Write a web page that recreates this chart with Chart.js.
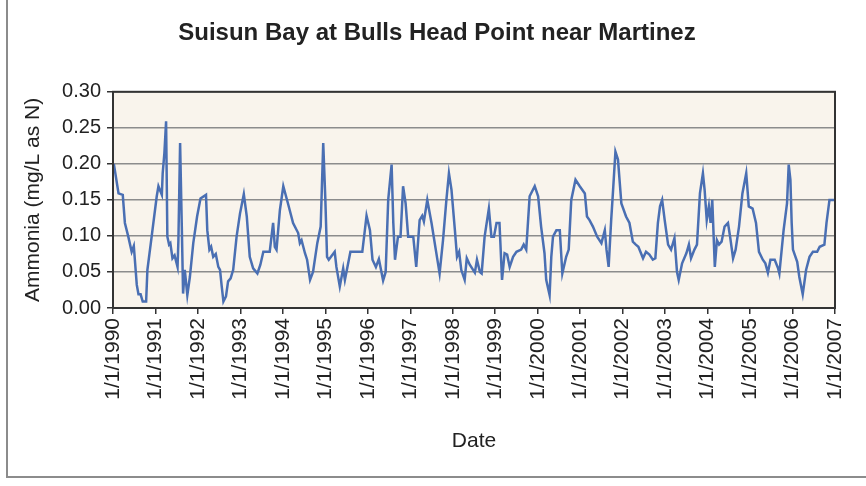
<!DOCTYPE html>
<html>
<head>
<meta charset="utf-8">
<script src="https://cdn.jsdelivr.net/npm/chart.js@4/dist/chart.umd.min.js"></script>
<style>
  html, body { margin: 0; padding: 0; background: #fff; }
  #wrap { width: 866px; height: 486px; position: relative; }
</style>
</head>
<body>
<div id="wrap"><canvas id="chart" width="866" height="486"></canvas></div>
<script>
// sample dates as decimal years, values in mg/L as N
const dates = [
  1990.02, 1990.13, 1990.23, 1990.28, 1990.36, 1990.44, 1990.49, 1990.56, 1990.60, 1990.65,
  1990.70, 1990.78, 1990.81, 1990.91, 1991.03, 1991.07, 1991.15, 1991.17, 1991.21, 1991.25,
  1991.28, 1991.32, 1991.35, 1991.40, 1991.45, 1991.52, 1991.54, 1991.58, 1991.62, 1991.65,
  1991.69, 1991.75, 1991.81, 1991.89, 1991.98, 1992.06, 1992.19, 1992.22, 1992.27, 1992.31,
  1992.36, 1992.42, 1992.48, 1992.52, 1992.56, 1992.60, 1992.66, 1992.71, 1992.77, 1992.83,
  1992.91, 1992.99, 1993.08, 1993.15, 1993.22, 1993.30, 1993.40, 1993.47, 1993.54, 1993.69,
  1993.77, 1993.81, 1993.85, 1993.93, 1994.01, 1994.12, 1994.24, 1994.36, 1994.40, 1994.44,
  1994.52, 1994.57, 1994.64, 1994.71, 1994.81, 1994.89, 1994.95, 1995.00, 1995.04, 1995.08,
  1995.22, 1995.26, 1995.34, 1995.42, 1995.46, 1995.52, 1995.59, 1995.87, 1995.97, 1996.05,
  1996.11, 1996.19, 1996.26, 1996.31, 1996.36, 1996.42, 1996.48, 1996.56, 1996.60, 1996.64,
  1996.71, 1996.77, 1996.83, 1996.89, 1996.95, 1997.07, 1997.14, 1997.22, 1997.28, 1997.32,
  1997.40, 1997.50, 1997.60, 1997.69, 1997.77, 1997.85, 1997.91, 1997.97, 1998.05, 1998.10,
  1998.15, 1998.20, 1998.28, 1998.33, 1998.40, 1998.52, 1998.57, 1998.64, 1998.68, 1998.75,
  1998.85, 1998.91, 1998.97, 1999.03, 1999.10, 1999.16, 1999.22, 1999.28, 1999.34, 1999.42,
  1999.50, 1999.61, 1999.67, 1999.73, 1999.81, 1999.93, 2000.01, 2000.08, 2000.16, 2000.20,
  2000.28, 2000.32, 2000.36, 2000.44, 2000.52, 2000.58, 2000.67, 2000.73, 2000.79, 2000.89,
  2000.99, 2001.11, 2001.16, 2001.22, 2001.30, 2001.40, 2001.50, 2001.58, 2001.62, 2001.67,
  2001.73, 2001.77, 2001.83, 2001.89, 2001.97, 2002.08, 2002.16, 2002.24, 2002.31, 2002.37,
  2002.48, 2002.55, 2002.63, 2002.71, 2002.77, 2002.83, 2002.88, 2002.93, 2002.99, 2003.07,
  2003.14, 2003.22, 2003.28, 2003.32, 2003.40, 2003.50, 2003.56, 2003.61, 2003.69, 2003.75,
  2003.82, 2003.89, 2003.93, 2003.98, 2004.03, 2004.07, 2004.11, 2004.17, 2004.22, 2004.27,
  2004.33, 2004.40, 2004.48, 2004.53, 2004.60, 2004.66, 2004.74, 2004.82, 2004.91, 2004.97,
  2005.06, 2005.14, 2005.21, 2005.30, 2005.36, 2005.42, 2005.48, 2005.58, 2005.66, 2005.69,
  2005.79, 2005.87, 2005.91, 2005.95, 2005.98, 2006.01, 2006.11, 2006.16, 2006.24, 2006.32,
  2006.40, 2006.48, 2006.58, 2006.64, 2006.75, 2006.80, 2006.87, 2006.99
]
const ammonia = [
  0.200, 0.159, 0.157, 0.118, 0.099, 0.078, 0.086, 0.032, 0.019, 0.019,
  0.009, 0.009, 0.053, 0.099, 0.155, 0.169, 0.157, 0.187, 0.215, 0.259,
  0.099, 0.088, 0.090, 0.069, 0.073, 0.057, 0.094, 0.229, 0.113, 0.020,
  0.053, 0.018, 0.043, 0.090, 0.127, 0.152, 0.157, 0.108, 0.081, 0.085,
  0.071, 0.075, 0.057, 0.053, 0.030, 0.009, 0.016, 0.037, 0.041, 0.053,
  0.099, 0.131, 0.158, 0.127, 0.071, 0.055, 0.048, 0.060, 0.078, 0.078,
  0.118, 0.085, 0.081, 0.136, 0.169, 0.145, 0.118, 0.104, 0.090, 0.094,
  0.076, 0.067, 0.039, 0.050, 0.090, 0.113, 0.229, 0.150, 0.071, 0.067,
  0.078, 0.057, 0.030, 0.055, 0.039, 0.057, 0.078, 0.078, 0.128, 0.108,
  0.067, 0.057, 0.068, 0.053, 0.038, 0.050, 0.150, 0.199, 0.118, 0.067,
  0.099, 0.099, 0.169, 0.145, 0.099, 0.099, 0.057, 0.122, 0.128, 0.120,
  0.150, 0.118, 0.081, 0.048, 0.094, 0.150, 0.187, 0.164, 0.108, 0.071,
  0.078, 0.053, 0.039, 0.069, 0.060, 0.049, 0.067, 0.050, 0.048, 0.099,
  0.138, 0.099, 0.099, 0.118, 0.118, 0.039, 0.076, 0.074, 0.057, 0.071,
  0.078, 0.081, 0.088, 0.081, 0.155, 0.169, 0.155, 0.113, 0.076, 0.039,
  0.018, 0.071, 0.099, 0.108, 0.108, 0.048, 0.071, 0.081, 0.150, 0.178,
  0.169, 0.159, 0.127, 0.122, 0.113, 0.099, 0.090, 0.108, 0.081, 0.057,
  0.122, 0.159, 0.217, 0.206, 0.145, 0.127, 0.118, 0.092, 0.088, 0.085,
  0.069, 0.078, 0.074, 0.067, 0.069, 0.118, 0.141, 0.150, 0.122, 0.088,
  0.081, 0.097, 0.050, 0.039, 0.062, 0.076, 0.088, 0.069, 0.081, 0.088,
  0.159, 0.187, 0.164, 0.122, 0.141, 0.118, 0.150, 0.057, 0.094, 0.088,
  0.092, 0.113, 0.118, 0.099, 0.069, 0.081, 0.113, 0.159, 0.187, 0.141,
  0.138, 0.118, 0.078, 0.067, 0.062, 0.049, 0.067, 0.067, 0.055, 0.048,
  0.108, 0.145, 0.199, 0.178, 0.118, 0.081, 0.064, 0.043, 0.019, 0.053,
  0.071, 0.078, 0.078, 0.085, 0.088, 0.118, 0.150, 0.150
]
const firstYear = 1990, lastYear = 2007
const yTicks = [0, 0.05, 0.10, 0.15, 0.20, 0.25, 0.30]

const points = dates.map((d, i) => ({ x: d, y: ammonia[i] }))

// beige plot area, dark frame round it and the grey page frame
const framePlugin = {
  id: 'frame',
  beforeDraw(chart) {
    const { ctx, chartArea: a } = chart
    ctx.save()
    ctx.fillStyle = '#fff'
    ctx.fillRect(0, 0, chart.width, chart.height)
    ctx.fillStyle = '#f9f4ec'
    ctx.fillRect(a.left, a.top, a.right - a.left, a.bottom - a.top)
    ctx.strokeStyle = '#8c8c8c'
    ctx.lineWidth = 2
    ctx.beginPath()
    ctx.moveTo(7, 0)
    ctx.lineTo(7, 477)
    ctx.lineTo(866, 477)
    ctx.stroke()
    ctx.restore()
  },
  afterDraw(chart) {
    const { ctx, chartArea: a } = chart
    ctx.save()
    ctx.strokeStyle = '#333'
    ctx.lineWidth = 2
    ctx.strokeRect(a.left, a.top, a.right - a.left, a.bottom - a.top)
    ctx.restore()
  }
}

new Chart(document.getElementById('chart'), {
  type: 'line',
  data: {
    datasets: [{
      data: points,
      borderColor: '#4a6fb3',
      borderWidth: 2.5,
      pointRadius: 0,
      tension: 0,
      fill: false
    }]
  },
  plugins: [framePlugin],
  options: {
    responsive: false,
    animation: false,
    layout: { padding: { left: 8, right: 0, top: 0, bottom: 0 } },
    plugins: {
      legend: { display: false },
      tooltip: { enabled: false },
      title: {
        display: true,
        text: 'Suisun Bay at Bulls Head Point near Martinez',
        color: '#222',
        font: { family: 'Liberation Sans', size: 24, weight: 'bold' },
        padding: { top: 19, bottom: 44 }
      }
    },
    scales: {
      x: {
        type: 'linear',
        min: firstYear,
        max: lastYear,
        afterBuildTicks(scale) {
          const t = []
          for (let y = firstYear; y <= lastYear; y++) t.push({ value: y })
          scale.ticks = t
        },
        afterFit(scale) { scale.height = 178 },
        ticks: {
          minRotation: 90,
          maxRotation: 90,
          autoSkip: false,
          padding: 4,
          color: '#222',
          font: { family: 'Liberation Sans', size: 21 },
          callback: v => '1/1/' + v
        },
        grid: { drawOnChartArea: false, drawTicks: true, tickLength: 6, tickColor: '#333', lineWidth: 1.5 },
        border: { display: true, color: '#333', width: 2 },
        title: {
          display: true,
          text: 'Date',
          color: '#222',
          font: { family: 'Liberation Sans', size: 21 },
          padding: { top: 0, bottom: 32 }
        }
      },
      y: {
        min: 0,
        max: 0.30,
        afterBuildTicks(scale) {
          scale.ticks = yTicks.map(v => ({ value: v }))
        },
        afterFit(scale) { scale.width = 105 },
        ticks: {
          padding: 6,
          color: '#222',
          font: { family: 'Liberation Sans', size: 20 },
          callback: v => v.toFixed(2)
        },
        grid: { color: '#8c8c8c', lineWidth: 1.5, tickLength: 6, tickColor: '#333' },
        border: { display: true, color: '#333', width: 2 },
        title: {
          display: true,
          text: 'Ammonia (mg/L as N)',
          color: '#222',
          font: { family: 'Liberation Sans', size: 21 },
          padding: { top: 13, bottom: 0 }
        }
      },
      // empty right axis, only reserves the margin right of the plot
      y2: {
        position: 'right',
        display: true,
        min: 0,
        max: 0.30,
        afterFit(scale) { scale.width = 31 },
        ticks: { display: false },
        grid: { display: false },
        border: { display: false }
      }
    }
  }
})
</script>
</body>
</html>
